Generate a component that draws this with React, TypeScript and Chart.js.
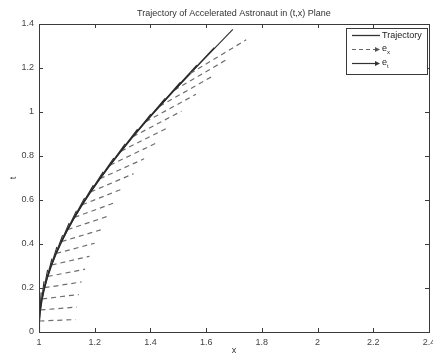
import React, { useEffect, useRef } from "react";
import { Chart, registerables } from "chart.js";

Chart.register(...registerables);

const titleText = "Trajectory of Accelerated Astronaut in (t,x) Plane";
const xLabel = "x";
const yLabel = "t";
const xTicks = [1, 1.2, 1.4, 1.6, 1.8, 2, 2.2, 2.4];
const yTicks = [0, 0.2, 0.4, 0.6, 0.8, 1, 1.2, 1.4];

// trajectory points (x, t)
const trajX = [1.0, 1.0013, 1.005, 1.0113, 1.0201, 1.0314, 1.0453, 1.0619, 1.0811, 1.103, 1.1276, 1.1551, 1.1855, 1.2188, 1.2552, 1.2947, 1.3374, 1.3835, 1.4331, 1.4862, 1.5431];
const trajT = [0, 0.05, 0.1002, 0.1506, 0.2013, 0.2526, 0.3045, 0.3572, 0.4108, 0.4653, 0.5211, 0.5782, 0.6367, 0.6967, 0.7586, 0.8223, 0.8881, 0.9561, 1.0265, 1.0995, 1.1752];

// vector bases (points on trajectory)
const baseX = [1.0013, 1.005, 1.0113, 1.0201, 1.0314, 1.0453, 1.0619, 1.0811, 1.103, 1.1276, 1.1551, 1.1855, 1.2188, 1.2552, 1.2947, 1.3374, 1.3835, 1.4331, 1.4862, 1.5431];
const baseT = [0.05, 0.1002, 0.1506, 0.2013, 0.2526, 0.3045, 0.3572, 0.4108, 0.4653, 0.5211, 0.5782, 0.6367, 0.6967, 0.7586, 0.8223, 0.8881, 0.9561, 1.0265, 1.0995, 1.1752];

// e_x vector tips
const exEndX = [1.1315, 1.1357, 1.1428, 1.1527, 1.1655, 1.1812, 1.1999, 1.2216, 1.2464, 1.2742, 1.3053, 1.3396, 1.3772, 1.4184, 1.463, 1.5113, 1.5634, 1.6194, 1.6794, 1.7437];
const exEndT = [0.0565, 0.1132, 0.1702, 0.2275, 0.2854, 0.3441, 0.4036, 0.4642, 0.5258, 0.5888, 0.6534, 0.7195, 0.7873, 0.8572, 0.9292, 1.0036, 1.0804, 1.1599, 1.2424, 1.328];

// e_t vector tips
const etEndX = [1.0078, 1.018, 1.0309, 1.0463, 1.0642, 1.0849, 1.1083, 1.1345, 1.1635, 1.1953, 1.2303, 1.2683, 1.3094, 1.3538, 1.4016, 1.4529, 1.5078, 1.5665, 1.6291, 1.6959];
const etEndT = [0.1802, 0.2309, 0.2821, 0.3339, 0.3867, 0.4404, 0.4952, 0.5513, 0.6087, 0.6677, 0.7284, 0.7908, 0.8551, 0.9218, 0.9906, 1.062, 1.136, 1.2128, 1.2927, 1.3758];

const FONT = "'Liberation Sans', Arial, sans-serif";
const W = 433;
const CW = 442;
const H = 356;
const PLOT_LEFT = 39;
const PLOT_RIGHT = 429;
const PLOT_TOP = 24;
const PLOT_BOTTOM = 332;

const fmt = (v: number) => String(Number(v.toFixed(1)));

const overlayPlugin = {
  id: "matlabOverlay",
  afterDraw(chart: any) {
    const ctx = chart.ctx as CanvasRenderingContext2D;
    const area = chart.chartArea;
    const xs = chart.scales.x;
    const ys = chart.scales.y;
    ctx.save();
    ctx.strokeStyle = "#3a3a3a";
    ctx.lineWidth = 1;
    ctx.strokeRect(Math.round(area.left) + 0.5, Math.round(area.top) + 0.5, Math.round(area.right - area.left), Math.round(area.bottom - area.top));
    const tl = 4;
    ctx.beginPath();
    xTicks.forEach((v) => {
      const px = Math.round(xs.getPixelForValue(v)) + 0.5;
      ctx.moveTo(px, area.bottom);
      ctx.lineTo(px, area.bottom - tl);
      ctx.moveTo(px, area.top);
      ctx.lineTo(px, area.top + tl);
    });
    yTicks.forEach((v) => {
      const py = Math.round(ys.getPixelForValue(v)) + 0.5;
      ctx.moveTo(area.left, py);
      ctx.lineTo(area.left + tl, py);
      ctx.moveTo(area.right, py);
      ctx.lineTo(area.right - tl, py);
    });
    ctx.stroke();

    ctx.fillStyle = "#333";
    ctx.font = `9px ${FONT}`;
    ctx.textAlign = "center";
    ctx.textBaseline = "middle";
    ctx.fillText(titleText, (area.left + area.right) / 2, 14);
    ctx.fillText(xLabel, (area.left + area.right) / 2, 351);
    ctx.save();
    ctx.translate(14, (area.top + area.bottom) / 2);
    ctx.rotate(-Math.PI / 2);
    ctx.fillText(yLabel, 0, 0);
    ctx.restore();

    const bx = 346, by = 28, bw = 81, bh = 46;
    ctx.fillStyle = "#fff";
    ctx.fillRect(bx, by, bw, bh);
    ctx.strokeStyle = "#3a3a3a";
    ctx.lineWidth = 1;
    ctx.strokeRect(bx + 0.5, by + 0.5, bw, bh);
    const rows = [35.5, 49.5, 63.5];
    const sx0 = 352, sx1 = 380;
    ctx.strokeStyle = "#333";
    ctx.lineWidth = 1.3;
    ctx.beginPath();
    ctx.moveTo(sx0, rows[0]);
    ctx.lineTo(sx1, rows[0]);
    ctx.stroke();
    ctx.strokeStyle = "#666";
    ctx.lineWidth = 1.2;
    ctx.setLineDash([4, 3]);
    ctx.beginPath();
    ctx.moveTo(sx0, rows[1]);
    ctx.lineTo(sx1 - 3, rows[1]);
    ctx.stroke();
    ctx.setLineDash([]);
    ctx.fillStyle = "#555";
    ctx.beginPath();
    ctx.moveTo(sx1, rows[1]);
    ctx.lineTo(sx1 - 5, rows[1] - 2.5);
    ctx.lineTo(sx1 - 5, rows[1] + 2.5);
    ctx.closePath();
    ctx.fill();
    ctx.strokeStyle = "#333";
    ctx.lineWidth = 1.2;
    ctx.beginPath();
    ctx.moveTo(sx0, rows[2]);
    ctx.lineTo(sx1 - 3, rows[2]);
    ctx.stroke();
    ctx.fillStyle = "#333";
    ctx.beginPath();
    ctx.moveTo(sx1, rows[2]);
    ctx.lineTo(sx1 - 5, rows[2] - 2.5);
    ctx.lineTo(sx1 - 5, rows[2] + 2.5);
    ctx.closePath();
    ctx.fill();
    ctx.fillStyle = "#222";
    ctx.textAlign = "left";
    ctx.font = `9px ${FONT}`;
    ctx.fillText("Trajectory", 382, rows[0]);
    const eW = ctx.measureText("e").width;
    ctx.fillText("e", 382, rows[1] - 1);
    ctx.fillText("e", 382, rows[2] - 1);
    ctx.font = `6px ${FONT}`;
    ctx.fillText("x", 382 + eW, rows[1] + 2.5);
    ctx.fillText("t", 382 + eW, rows[2] + 2.5);
    ctx.restore();
  },
};

export default function App() {
  const ref = useRef<HTMLCanvasElement | null>(null);

  useEffect(() => {
    document.body.style.margin = "0";
    document.body.style.overflow = "hidden";
    const canvas = ref.current;
    if (!canvas) return;

    const datasets: any[] = [];
    datasets.push({
      label: "Trajectory",
      data: trajX.map((x, i) => ({ x, y: trajT[i] })),
      borderColor: "#2a2a2a",
      borderWidth: 1.4,
      pointRadius: 0,
      showLine: true,
      tension: 0,
    });
    baseX.forEach((bx, i) => {
      datasets.push({
        label: "ex" + i,
        data: [
          { x: bx, y: baseT[i] },
          { x: exEndX[i], y: exEndT[i] },
        ],
        borderColor: "#6e6e6e",
        borderWidth: 1.2,
        borderDash: [5, 4],
        pointRadius: 0,
        showLine: true,
      });
    });
    baseX.forEach((bx, i) => {
      datasets.push({
        label: "et" + i,
        data: [
          { x: bx, y: baseT[i] },
          { x: etEndX[i], y: etEndT[i] },
        ],
        borderColor: "#2a2a2a",
        borderWidth: 1.1,
        pointRadius: 0,
        showLine: true,
      });
    });

    const chart = new Chart(canvas, {
      type: "scatter",
      data: { datasets },
      options: {
        animation: false,
        responsive: false,
        maintainAspectRatio: false,
        devicePixelRatio: 1,
        layout: { padding: { top: PLOT_TOP, left: 0, right: CW - PLOT_RIGHT, bottom: 0 } },
        plugins: { legend: { display: false }, tooltip: { enabled: false }, title: { display: false } },
        scales: {
          x: {
            type: "linear",
            min: 1,
            max: 2.4,
            grid: { display: false, drawTicks: false },
            border: { display: false },
            afterBuildTicks: (s: any) => {
              s.ticks = xTicks.map((v) => ({ value: v }));
            },
            afterFit: (s: any) => {
              s.height = H - PLOT_BOTTOM;
              s.paddingLeft = 0;
              s.paddingRight = 0;
            },
            ticks: {
              autoSkip: false,
              maxRotation: 0,
              padding: 5,
              color: "#444",
              font: { family: FONT, size: 9 },
              callback: (v: any) => fmt(Number(v)),
            },
          },
          y: {
            type: "linear",
            min: 0,
            max: 1.4,
            grid: { display: false, drawTicks: false },
            border: { display: false },
            afterBuildTicks: (s: any) => {
              s.ticks = yTicks.map((v) => ({ value: v }));
            },
            afterFit: (s: any) => {
              s.width = PLOT_LEFT;
              s.paddingTop = 0;
              s.paddingBottom = 0;
            },
            ticks: {
              autoSkip: false,
              padding: 5,
              color: "#444",
              font: { family: FONT, size: 9 },
              callback: (v: any) => fmt(Number(v)),
            },
          },
        },
      },
      plugins: [overlayPlugin],
    });
    return () => chart.destroy();
  }, []);

  return (
    <div style={{ position: "fixed", left: 0, top: 0, width: W, height: H, overflow: "hidden", background: "#fff" }}>
      <canvas ref={ref} width={CW} height={H} style={{ width: CW, height: H, display: "block" }} />
    </div>
  );
}
